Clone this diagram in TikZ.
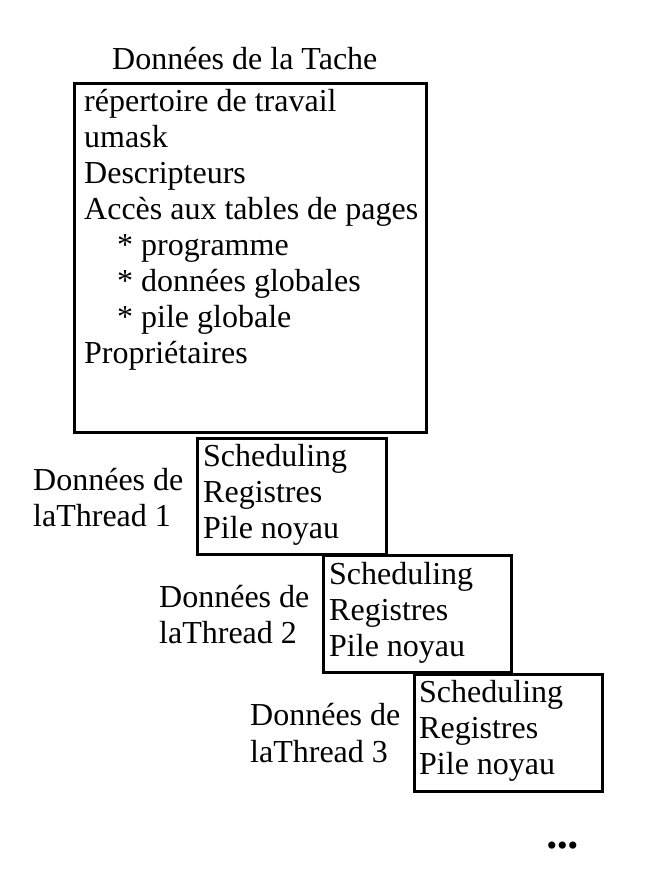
\documentclass[tikz,border=0pt]{standalone}
\usepackage{fontspec}
\setmainfont{Liberation Serif}
\begin{document}
\begin{tikzpicture}[x=1pt,y=-1pt,
  boxstyle/.style={draw=black, line width=3.4pt, inner sep=0pt, anchor=north west},
  txt/.style={anchor=base west, inner sep=0pt, font=\fontsize{32}{36}\selectfont}]
\useasboundingbox (0,0) rectangle (646,874);
% boxes
\node[boxstyle, minimum width=352pt, minimum height=349pt] (tache) at (73,82) {};
\node[boxstyle, minimum width=189pt, minimum height=116pt] (t1) at (196,437) {};
\node[boxstyle, minimum width=188pt, minimum height=117pt] (t2) at (322,554) {};
\node[boxstyle, minimum width=188pt, minimum height=117pt] (t3) at (413,673) {};
% title
\node[txt] (title) at (112,70) {Données de la Tache};
% task contents
\node[txt] (l1) at (84,112) {répertoire de travail};
\node[txt] (l2) at (84,148) {umask};
\node[txt] (l3) at (84,184) {Descripteurs};
\node[txt] (l4) at (84,220) {Accès aux tables de pages};
\node[txt] (l5) at (117,255) {* programme};
\node[txt] (l6) at (117,291) {* données globales};
\node[txt] (l7) at (117,327) {* pile globale};
\node[txt] (l8) at (84,363) {Propriétaires};
% thread 1
\node[txt] (a1) at (203,466) {Scheduling};
\node[txt] (a2) at (203,502) {Registres};
\node[txt] (a3) at (203,538) {Pile noyau};
\node[txt] (la1) at (33,490) {Données de};
\node[txt] (la2) at (33,526) {laThread 1};
% thread 2
\node[txt] (b1) at (329,584) {Scheduling};
\node[txt] (b2) at (329,620) {Registres};
\node[txt] (b3) at (329,656) {Pile noyau};
\node[txt] (lb1) at (159,607) {Données de};
\node[txt] (lb2) at (159,643) {laThread 2};
% thread 3
\node[txt] (c1) at (419,702) {Scheduling};
\node[txt] (c2) at (419,738) {Registres};
\node[txt] (c3) at (419,774) {Pile noyau};
\node[txt] (lc1) at (250,725) {Données de};
\node[txt] (lc2) at (250,762) {laThread 3};
% dots
\node[anchor=base west, inner sep=0pt, font=\fontsize{30}{33}\selectfont] (dots) at (546.5,855) {•••};
\end{tikzpicture}
\end{document}
